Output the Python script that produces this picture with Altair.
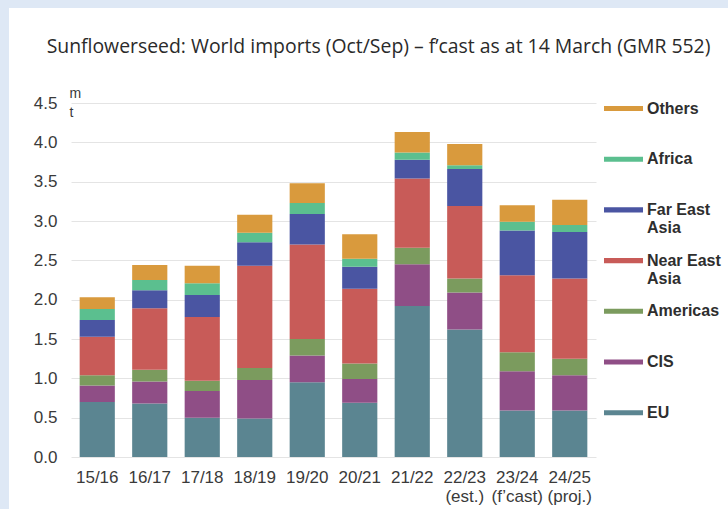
import altair as alt
import pandas as pd

# Marketing years (Oct/Sep); a space marks the break into a second label line
seasons = ["15/16", "16/17", "17/18", "18/19", "19/20", "20/21", "21/22",
           "22/23 (est.)", "23/24 (f\u2019cast)", "24/25 (proj.)"]

# Imports by destination, million tonnes
eu = [0.70, 0.68, 0.50, 0.49, 0.95, 0.69, 1.92, 1.62, 0.59, 0.59]
cis = [0.21, 0.28, 0.34, 0.49, 0.34, 0.30, 0.53, 0.47, 0.50, 0.45]
americas = [0.13, 0.15, 0.13, 0.15, 0.21, 0.20, 0.21, 0.18, 0.24, 0.21]
near_east = [0.49, 0.78, 0.81, 1.30, 1.20, 0.95, 0.88, 0.92, 0.98, 1.02]
far_east = [0.21, 0.23, 0.28, 0.30, 0.39, 0.28, 0.24, 0.47, 0.57, 0.59]
africa = [0.14, 0.13, 0.15, 0.12, 0.14, 0.10, 0.09, 0.05, 0.11, 0.09]
others = [0.15, 0.19, 0.22, 0.23, 0.25, 0.31, 0.26, 0.27, 0.21, 0.32]

# Stacking order, bottom to top
regions = ["EU", "CIS", "Americas", "Near East Asia", "Far East Asia", "Africa", "Others"]
series = [eu, cis, americas, near_east, far_east, africa, others]

# Legend order (top to bottom) and colours
legend_order = ["Others", "Africa", "Far East Asia", "Near East Asia", "Americas", "CIS", "EU"]
palette = ["#D99A3D", "#5BBF8F", "#4A55A2", "#C85B58", "#7B9B5E", "#8F4E86", "#5B8591"]

y_ticks = [0.0, 0.5, 1.0, 1.5, 2.0, 2.5, 3.0, 3.5, 4.0, 4.5]

rows = []
for i, season in enumerate(seasons):
    for k, (name, vals) in enumerate(zip(regions, series)):
        rows.append({"season": season, "region": name, "value": vals[i], "stack": k})
df = pd.DataFrame(rows)

AXIS_FONT = "Liberation Sans"
PAGE_BLUE = "#DEE8F5"

bars = alt.Chart(df).mark_bar().encode(
    x=alt.X(
        "season:N",
        sort=seasons,
        scale=alt.Scale(paddingInner=0.33, paddingOuter=0.165),
        axis=alt.Axis(
            title=None,
            labelAngle=0,
            labelExpr="split(datum.label, ' ')",
            labelFont=AXIS_FONT,
            labelFontSize=17,
            labelColor="#3a3a3a",
            labelPadding=12,
            labelLineHeight=19,
            ticks=False,
            tickSize=0,
            domain=False,
            grid=False,
        ),
    ),
    y=alt.Y(
        "value:Q",
        stack="zero",
        scale=alt.Scale(domain=[0, 4.5], nice=False),
        axis=alt.Axis(
            values=y_ticks,
            format=".1f",
            title=["m", "t"],
            titleAngle=0,
            titleAlign="left",
            titleBaseline="alphabetic",
            titleX=-2,
            titleY=-6,
            titleLineHeight=19,
            titleFont=AXIS_FONT,
            titleFontSize=14,
            titleFontWeight="normal",
            titleColor="#3a3a3a",
            labelFont=AXIS_FONT,
            labelFontSize=17,
            labelColor="#3a3a3a",
            labelPadding=14,
            ticks=False,
            tickSize=0,
            domain=False,
            grid=True,
            gridColor="#E4E4E4",
            gridWidth=1,
        ),
    ),
    color=alt.Color(
        "region:N",
        scale=alt.Scale(domain=legend_order, range=palette),
        legend=alt.Legend(
            title=None,
            orient="none",
            legendX=533,
            legendY=-14,
            direction="vertical",
            gridAlign="all",
            symbolType="M-1,-0.13H1V0.13H-1Z",
            symbolSize=1521,
            symbolStrokeWidth=0,
            labelFont=AXIS_FONT,
            labelFontSize=16,
            labelFontWeight="bold",
            labelColor="#2e2e2e",
            labelOffset=4,
            labelLimit=200,
            rowPadding=4.7,
            labelExpr="datum.label == 'Far East Asia' ? ['Far East', 'Asia'] : "
                      "datum.label == 'Near East Asia' ? ['Near East', 'Asia'] : datum.label",
        ),
    ),
    order=alt.Order("stack:Q"),
)

# Light-blue page edge along the left and top of the panel
frame = alt.Data(values=[{}])
left_edge = alt.Chart(frame).mark_rect(color=PAGE_BLUE).encode(
    x=alt.value(-71), x2=alt.value(-62), y=alt.value(-103), y2=alt.value(406)
)
top_edge = alt.Chart(frame).mark_rect(color=PAGE_BLUE).encode(
    x=alt.value(-71), x2=alt.value(657), y=alt.value(-103), y2=alt.value(-95)
)

chart = alt.layer(left_edge, top_edge, bars).properties(
    width=525,
    height=354,
    autosize=alt.AutoSizeParams(type="none"),
    padding={"left": 71, "top": 103, "right": 132, "bottom": 52},
    background="white",
    title=alt.TitleParams(
        "Sunflowerseed: World imports (Oct/Sep) \u2013 f\u2019cast as at 14 March (GMR 552)",
        font="Open Sans",
        fontSize=19.4,
        fontWeight="normal",
        color="#2a2a2a",
        anchor="middle",
        frame="group",
        offset=-57,
        dx=45,
    ),
).configure_view(stroke=None)

chart.save("out.html", embed_options={"renderer": "svg", "actions": False})
